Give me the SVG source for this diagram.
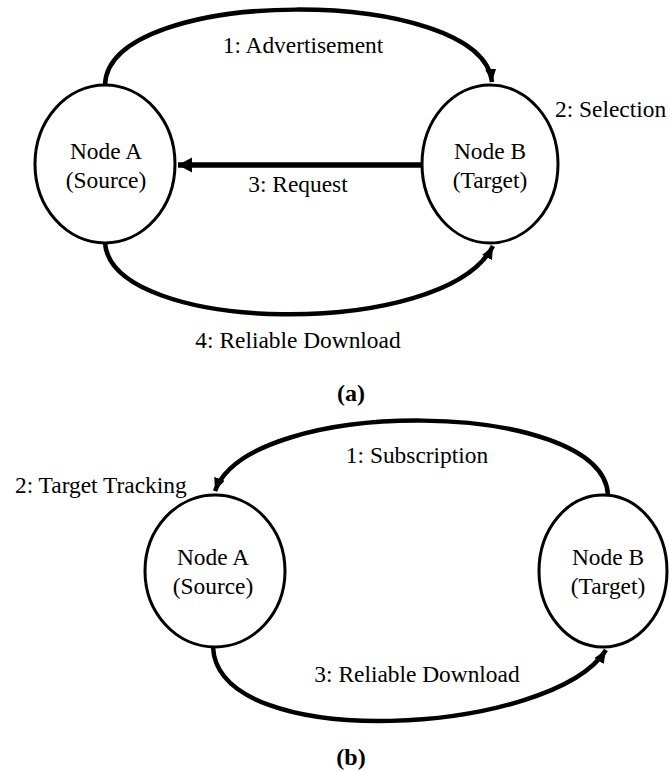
<svg xmlns="http://www.w3.org/2000/svg" width="669" height="771" viewBox="0 0 669 771">
  <style>
    .node { fill: #fff; stroke: #000; stroke-width: 3; }
    .lbl { font-family: "Liberation Serif", "Times New Roman", serif; font-size: 23.4px; fill: #000; }
    .mid { text-anchor: middle; }
    .cap { font-family: "Liberation Serif", "Times New Roman", serif; font-size: 24px; font-weight: bold; text-anchor: middle; fill: #000; }
    .arc { fill: none; stroke: #000; stroke-width: 4.5; stroke-linecap: butt; }
    .bar { fill: none; stroke: #000; stroke-width: 5.5; }
  </style>
  <defs>
    <marker id="head" markerUnits="userSpaceOnUse" markerWidth="14" markerHeight="14" viewBox="0 0 14 14" refX="13" refY="7" orient="auto">
      <path d="M0,1.5 L13,7 L0,12.5 Z" fill="#000"/>
    </marker>
    <marker id="headBig" markerUnits="userSpaceOnUse" markerWidth="16" markerHeight="16" viewBox="0 0 16 16" refX="14" refY="8" orient="auto">
      <path d="M0,0.5 L14,8 L0,15.5 Z" fill="#000"/>
    </marker>
  </defs>

  <!-- (a) advertisement-based transfer -->
  <g id="connectors-a">
    <path class="arc" d="M105,85 C108,-15 482,-15 492,82" marker-end="url(#head)"/>
    <line class="bar" x1="422" y1="165" x2="178" y2="165" marker-end="url(#headBig)"/>
    <path class="arc" d="M105,243 C112,335 445,340 493,246" marker-end="url(#head)"/>
  </g>
  <g id="a-node-a">
    <ellipse class="node" cx="105" cy="164" rx="70" ry="79"/>
    <text class="lbl mid" x="106" y="159">Node A</text>
    <text class="lbl mid" x="106" y="188">(Source)</text>
  </g>
  <g id="a-node-b">
    <ellipse class="node" cx="490" cy="164" rx="68" ry="79"/>
    <text class="lbl mid" x="490" y="159">Node B</text>
    <text class="lbl mid" x="490" y="188">(Target)</text>
  </g>
  <g id="a-labels">
    <text class="lbl mid" x="303" y="53">1: Advertisement</text>
    <text class="lbl" x="555" y="117">2: Selection</text>
    <text class="lbl mid" x="298" y="192">3: Request</text>
    <text class="lbl mid" x="298" y="348">4: Reliable Download</text>
  </g>
  <text class="cap" x="351" y="401">(a)</text>

  <!-- (b) subscription-based transfer -->
  <g id="connectors-b">
    <path class="arc" d="M608,495 C603,398 250,395 215,491" marker-end="url(#head)"/>
    <path class="arc" d="M213,647 C218,755 552,735 606,650" marker-end="url(#head)"/>
  </g>
  <g id="b-node-a">
    <ellipse class="node" cx="215" cy="571" rx="70" ry="76"/>
    <text class="lbl mid" x="213" y="565">Node A</text>
    <text class="lbl mid" x="213" y="594">(Source)</text>
  </g>
  <g id="b-node-b">
    <ellipse class="node" cx="603" cy="571" rx="64" ry="76"/>
    <text class="lbl mid" x="608" y="565">Node B</text>
    <text class="lbl mid" x="608" y="594">(Target)</text>
  </g>
  <g id="b-labels">
    <text class="lbl mid" x="417" y="463">1: Subscription</text>
    <text class="lbl" x="15" y="493">2: Target Tracking</text>
    <text class="lbl mid" x="417" y="682">3: Reliable Download</text>
  </g>
  <text class="cap" x="351" y="765">(b)</text>
</svg>
